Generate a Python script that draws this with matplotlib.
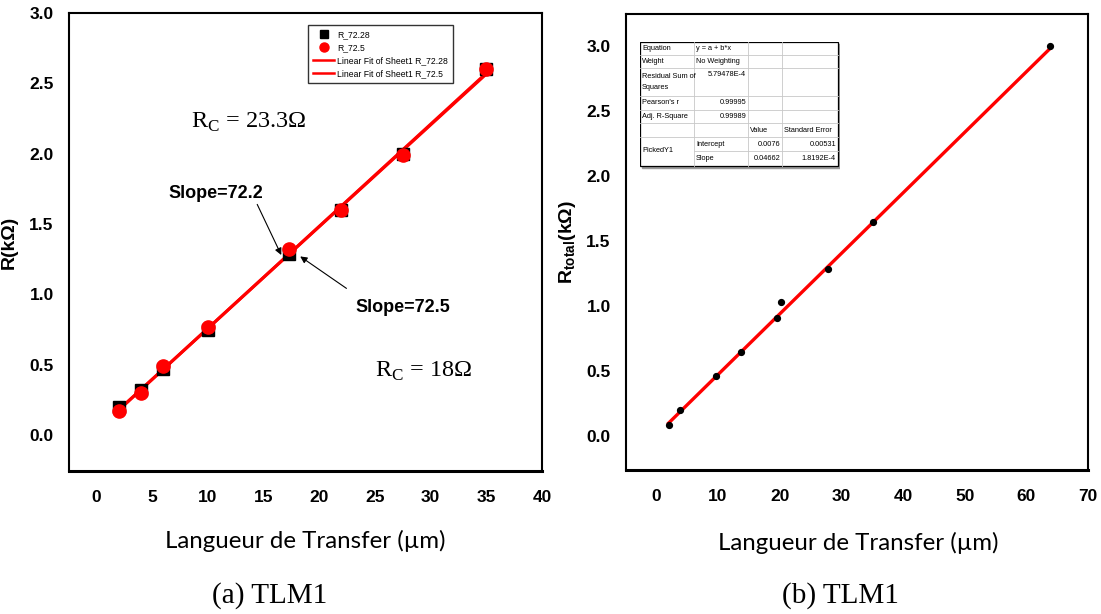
import numpy as np
import matplotlib
matplotlib.use("Agg")
import matplotlib.pyplot as plt
from matplotlib.lines import Line2D
from matplotlib.patches import Rectangle

# ---- data -------------------------------------------------------------
L_a = [2, 4, 6, 10, 17.3, 22, 27.5, 35]                  # µm
R_72_28 = [0.20, 0.32, 0.47, 0.75, 1.29, 1.60, 2.00, 2.60]  # kΩ
R_72_5 = [0.17, 0.30, 0.49, 0.77, 1.32, 1.60, 1.99, 2.60]   # kΩ

L_b = [2, 3.9, 9.7, 13.8, 19.6, 20.3, 27.9, 35.2, 63.9]
R_total = [0.09, 0.20, 0.46, 0.65, 0.91, 1.03, 1.29, 1.65, 3.00]
fit_b = {"intercept": 0.0076, "slope": 0.04662}

x_ticks_a = [0, 5, 10, 15, 20, 25, 30, 35, 40]
y_ticks_a = [0.0, 0.5, 1.0, 1.5, 2.0, 2.5, 3.0]
x_ticks_b = [0, 10, 20, 30, 40, 50, 60, 70]
y_ticks_b = [0.0, 0.5, 1.0, 1.5, 2.0, 2.5, 3.0]

table_rows = [
    ["Equation", "y = a + b*x", "", ""],
    ["Weight", "No Weighting", "", ""],
    ["Residual Sum of\nSquares", "5.79478E-4", "", ""],
    ["Pearson's r", "0.99995", "", ""],
    ["Adj. R-Square", "0.99989", "", ""],
    ["", "", "Value", "Standard Error"],
    ["PickedY1", "Intercept", "0.0076", "0.00531"],
    ["", "Slope", "0.04662", "1.8192E-4"],
]

# ---- figure -----------------------------------------------------------
W, H = 1101, 614
fig = plt.figure(figsize=(W / 100, H / 100), dpi=100)
narrow = ["Liberation Sans Narrow", "Liberation Sans", "DejaVu Sans"]


def px_axes(x0, y0, x1, y1):
    return fig.add_axes([x0 / W, 1 - y1 / H, (x1 - x0) / W, (y1 - y0) / H])


def style(ax, xt, yt):
    ax.set_xticks(xt)
    ax.set_yticks(yt)
    ax.set_xticklabels([f"{v:g}" for v in xt])
    ax.set_yticklabels([f"{v:.1f}" for v in yt])
    ax.tick_params(axis="x", length=0, pad=14)
    ax.tick_params(axis="y", length=0, pad=11)
    for lab in ax.get_xticklabels() + ax.get_yticklabels():
        lab.set_family(narrow)
        lab.set_fontweight("bold")
        lab.set_fontsize(12.5)
    for s in ax.spines.values():
        s.set_linewidth(1.5)
    ax.spines["bottom"].set_linewidth(2.2)


# ---- (a) ---------------------------------------------------------------
ax1 = px_axes(69, 13, 542, 471)
ax1.set_xlim(-2.45, 40)
ax1.set_ylim(-0.255, 3.0)
style(ax1, x_ticks_a, y_ticks_a)

ax1.plot(L_a, R_72_28, "s", color="black", ms=8, zorder=3, label="R_72.28")
ax1.plot(L_a, R_72_5, "o", color="red", ms=9.5, zorder=4, label="R_72.5")
xa = np.array([min(L_a), max(L_a)])
p1 = np.polyfit(L_a, R_72_28, 1)
p2 = np.polyfit(L_a, R_72_5, 1)
ax1.plot(xa, np.polyval(p1, xa), color="red", lw=2.2, zorder=2,
         label="Linear Fit of Sheet1 R_72.28")
ax1.plot(xa, np.polyval(p2, xa), color="red", lw=2.2, zorder=2,
         label="Linear Fit of Sheet1 R_72.5")

handles = [
    Line2D([], [], ls="none", marker="s", color="black", ms=5.5),
    Line2D([], [], ls="none", marker="o", color="red", ms=6.5),
    Line2D([], [], color="red", lw=1.8),
    Line2D([], [], color="red", lw=1.8),
]
labels = ["R_72.28", "R_72.5", "Linear Fit of Sheet1 R_72.28",
          "Linear Fit of Sheet1 R_72.5"]
leg = ax1.legend(handles, labels, loc="upper left",
                 bbox_to_anchor=((308 - 69) / 473, 1 - (25 - 13) / 458),
                 borderaxespad=0,
                 prop={"family": narrow, "size": 6.2}, frameon=True,
                 fancybox=False, edgecolor="black", borderpad=0.6,
                 handlelength=2.4, labelspacing=0.45, handletextpad=0.4)
leg.get_frame().set_linewidth(1.0)

serif = ["Liberation Serif", "DejaVu Serif"]
ax1.text(8.5, 2.22, r"R$_\mathregular{C}$ = 23.3Ω", family=serif,
         fontsize=17.5, va="center")
ax1.text(25.0, 0.45, r"R$_\mathregular{C}$ = 18Ω", family=serif,
         fontsize=17.5, va="center")
ax1.annotate("Slope=72.2", xy=(16.6, 1.28), xytext=(6.5, 1.72),
             family=narrow, fontweight="bold", fontsize=13,
             va="center", ha="left",
             arrowprops=dict(arrowstyle="-|>", color="black", lw=0.8,
                             shrinkA=0, shrinkB=0, mutation_scale=10,
                             relpos=(0.92, 0.0)))
ax1.annotate("Slope=72.5", xy=(18.3, 1.27), xytext=(23.3, 0.91),
             family=narrow, fontweight="bold", fontsize=13,
             va="center", ha="left",
             arrowprops=dict(arrowstyle="-|>", color="black", lw=0.8,
                             shrinkA=0, shrinkB=0, mutation_scale=10,
                             relpos=(-0.1, 1.6)))
ax1.set_ylabel("R(kΩ)", family=narrow, fontweight="bold", fontsize=14)
ax1.yaxis.set_label_coords((18 - 69) / 473, 0.5)

# ---- (b) ---------------------------------------------------------------
ax2 = px_axes(626, 14, 1088, 470)
ax2.set_xlim(-4.9, 70)
ax2.set_ylim(-0.26, 3.25)
style(ax2, x_ticks_b, y_ticks_b)
xb = np.array([min(L_b), max(L_b)])
ax2.plot(xb, fit_b["intercept"] + fit_b["slope"] * xb, color="red", lw=2.4,
         zorder=2)
ax2.plot(L_b, R_total, "o", color="black", ms=4.2, zorder=3)
ax2.set_ylabel(r"R$_\mathregular{total}$(kΩ)", family=narrow,
               fontweight="bold", fontsize=14)
ax2.yaxis.set_label_coords((578 - 626) / 462, 0.5)

# parameter table
tab = px_axes(640, 42, 840, 170)
tab.set_xlim(640, 840)
tab.set_ylim(170, 42)
tab.axis("off")
col_x = [640, 694, 748, 782, 838]
row_y = [42, 55, 68, 96, 110, 123, 137, 151, 166]
tab.add_patch(Rectangle((642, 44), 198, 124, color="#9a9a9a", zorder=0))
tab.add_patch(Rectangle((640, 42), 198, 124, facecolor="white",
                        edgecolor="black", lw=0.9, zorder=1))
for y in row_y[1:-1]:
    x_start = col_x[1] if y == row_y[7] else col_x[0]
    tab.plot([x_start, col_x[-1]], [y, y], color="#c8c8c8", lw=0.6, zorder=2)
for x in col_x[1:-1]:
    tab.plot([x, x], [row_y[0], row_y[-1]], color="#c8c8c8", lw=0.6,
             zorder=2)
tfont = dict(family=narrow, fontsize=5.3, zorder=3, va="center")
for r, row in enumerate(table_rows):
    yc = (row_y[r] + row_y[r + 1]) / 2
    for c, txt in enumerate(row):
        if not txt:
            continue
        if r == 6 and c == 0:
            tab.text(col_x[0] + 2, row_y[7], txt, **tfont)
            continue
        numeric = (c >= 1 and r in (2, 3, 4)) or (c >= 2 and r >= 6)
        if numeric:
            tab.text(col_x[c + 1] - 2, yc if r != 2 else row_y[2] + 7, txt,
                     ha="right", **tfont)
        elif r == 2 and c == 0:
            tab.text(col_x[0] + 2, yc, txt, ha="left", linespacing=1.9,
                     **tfont)
        else:
            tab.text(col_x[c] + 2, yc, txt, ha="left", **tfont)

# ---- shared labels -------------------------------------------------------
xfont = ["Lato", "Open Sans", "DejaVu Sans"]
fig.text(305 / W, 1 - 541 / H, "Langueur de Transfer (µm)", family=xfont,
         fontsize=17.3, ha="center", va="center")
fig.text(858 / W, 1 - 543 / H, "Langueur de Transfer (µm)", family=xfont,
         fontsize=17.3, ha="center", va="center")
fig.text(270 / W, 1 - 596 / H, "(a) TLM1", family=serif, fontsize=21,
         ha="center", va="center")
fig.text(840 / W, 1 - 596 / H, "(b) TLM1", family=serif, fontsize=21,
         ha="center", va="center")

fig.savefig("out.png", dpi=100)
